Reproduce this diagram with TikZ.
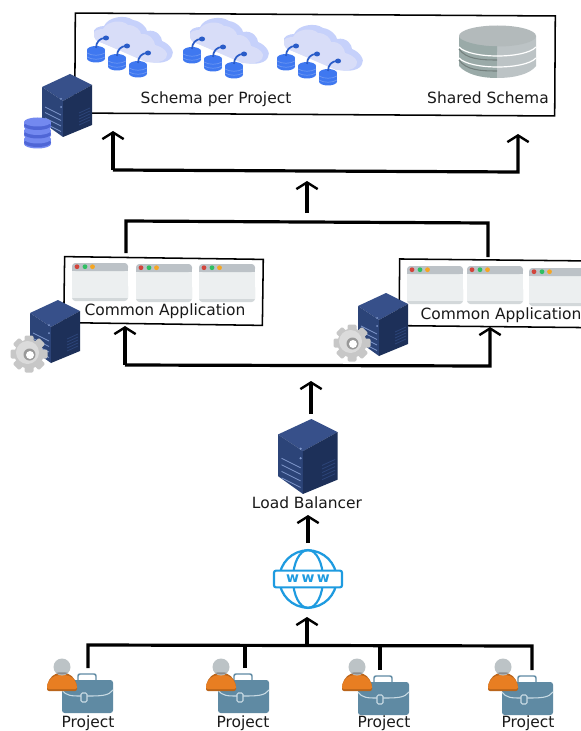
\documentclass[tikz,border=0pt]{standalone}
\usepackage{fontspec}
\setmainfont{DejaVu Sans}
\usetikzlibrary{arrows.meta}
\definecolor{srvTop}{HTML}{37508A}
\definecolor{srvLeft}{HTML}{2C4478}
\definecolor{srvRight}{HTML}{1D3059}
\definecolor{srvLine}{HTML}{7F97CC}
\definecolor{dbBlue}{HTML}{3F78F0}
\definecolor{dbDark}{HTML}{2A5CC8}
\definecolor{dbLight}{HTML}{6E98F2}
\definecolor{stackBlue}{HTML}{7389F0}
\definecolor{stackDark}{HTML}{4F66D6}
\definecolor{cloudBack}{HTML}{C6D1FB}
\definecolor{cloudFront}{HTML}{D8DDF8}
\definecolor{cylTop}{HTML}{B3BABB}
\definecolor{cylSideL}{HTML}{9AAAA8}
\definecolor{cylSideR}{HTML}{BCC3C5}
\definecolor{winBar}{HTML}{BCC2C7}
\definecolor{winBody}{HTML}{ECEFF0}
\definecolor{winEdge}{HTML}{D3D8DA}
\definecolor{winRed}{HTML}{D2453C}
\definecolor{winGreen}{HTML}{2FBF62}
\definecolor{winOrange}{HTML}{F5A623}
\definecolor{caseBlue}{HTML}{5F8AA3}
\definecolor{caseLine}{HTML}{C9DBE4}
\definecolor{personOrange}{HTML}{E87E22}
\definecolor{personHead}{HTML}{BCC3C6}
\definecolor{wwwBlue}{HTML}{1E9BE0}
\tikzset{
  x=0.75pt,y=-0.75pt,
  wire/.style={line width=2.4pt,black,line join=miter},
  arrowline/.style={wire,-{Straight Barb[length=5pt,width=16pt,line width=1.8pt]}},
  frame/.style={draw=black,line width=1.15pt,fill=white,inner sep=0pt},
  label/.style={font=\fontsize{11.6}{13}\selectfont,inner sep=0pt,text=black!90},
  pics/serverbox/.style={code={
    \fill[srvTop] (28,0)--(0,13)--(21,27)--(50,11)--cycle;
    \fill[srvLeft] (0,13)--(21,27)--(21,63)--(0,48)--cycle;
    \fill[srvRight] (21,27)--(50,11)--(50,51)--(21,63)--cycle;
    \foreach \k in {0,1,2,3}{\draw[srvLine,line width=.6pt] (3,33+5.5*\k)--(19,41+5.5*\k);}
    \fill[srvLine] (19,25) circle[radius=1];
    \fill[srvLine] (19,33) circle[radius=1];
    \foreach \k in {0,1,2,3,4}{\draw[srvLeft,line width=.6pt] (37,39+3*\k)--(48,34+3*\k);}
  }},
  pics/dbstack/.style={code={
    \foreach \k in {2,1,0}{
      \fill[stackBlue] (24,122+8.5*\k) rectangle (51,127+8.5*\k);
      \fill[stackBlue] (37.5,127+8.5*\k) ellipse[x radius=13.5,y radius=4.5];
      \fill[stackDark] (37.5,125.5+8.5*\k) ellipse[x radius=13.5,y radius=4.5];
      \fill[stackBlue] (37.5,122+8.5*\k) ellipse[x radius=13.5,y radius=4.5];
    }
  }},
  pics/minidb/.style={code={
    \fill[dbBlue] (-9,-4) rectangle (9,4);
    \fill[dbBlue] (0,4.5) ellipse[x radius=9,y radius=4];
    \fill[dbBlue] (0,-4) ellipse[x radius=9,y radius=4];
    \draw[dbLight,line width=.5pt] (-9,-1)..controls (-4,2) and (4,2)..(9,-1);
    \draw[dbLight,line width=.5pt] (-9,3)..controls (-4,6) and (4,6)..(9,3);
    \draw[dbDark,line width=1.3pt] (0,-6)..controls (0,-12) and (4,-16)..(9,-16);
    \fill[dbDark] (10,-16) ellipse[x radius=3,y radius=2.5];
  }},
  pics/cloudgroup/.style={code={
    \fill[cloudBack] (94,34)..controls (92,28) and (100,26)..(104,26)
      ..controls (108,17) and (125,14)..(133,20)..controls (141,21) and (147,28)..(147,31)
      ..controls (157,29) and (162,37)..(162,41)..controls (170,44) and (175,52)..(172,56)
      ..controls (170,62) and (160,64)..(150,62)--(100,42)..controls (96,41) and (94,38)..(94,34)--cycle;
    \fill[cloudFront] (94,34)..controls (93,30) and (100,29)..(103,29)
      ..controls (107,21) and (122,19)..(128,25)..controls (136,25) and (141,31)..(141,34)
      ..controls (150,33) and (155,41)..(155,45)..controls (163,47) and (170,53)..(166,58)
      ..controls (163,62) and (156,63)..(146,62)--(100,42)..controls (96,41) and (94,38)..(94,34)--cycle;
    \pic at (96,54) {minidb};
    \pic at (117,62) {minidb};
    \pic at (138,69) {minidb};
  }},
  pics/appwindow/.style={code={
    \fill[winEdge,rounded corners=2.5pt] (0,20) rectangle (56,38);
    \fill[winBody] (0,8) rectangle (56,35);
    \fill[winBar,rounded corners=2.5pt] (0,0) rectangle (56,8);
    \fill[winBar] (0,4) rectangle (56,8);
    \fill[winRed] (5,3.7) circle[radius=2.4];
    \fill[winGreen] (13,3.7) circle[radius=2.4];
    \fill[winOrange] (20.5,3.7) circle[radius=2.4];
  }},
  pics/cogwheel/.style={code={
    \foreach \a in {0,45,...,315}{
      \fill[black!22,rotate=\a,rounded corners=1pt] (-4.5,-18.5) rectangle (4.5,0);
    }
    \fill[black!22] (0,0) circle[radius=14.5];
    \fill[black!14] (-1.5,-1.5) circle[radius=11.5];
    \fill[black!40] (0.5,0.5) circle[radius=6];
    \fill[white] (1,1) circle[radius=4];
  }},
  pics/projectcase/.style={code={
    \draw[caseBlue,line width=1.1pt,rounded corners=1.5pt,fill=white] (78,680)--(78,674)--(96,674)--(96,680);
    \fill[caseBlue,rounded corners=2pt] (62,680) rectangle (113,713);
    \draw[caseLine,line width=.8pt] (62,690)..controls (66,696) and (72,696)..(81,696);
    \draw[caseLine,line width=.8pt] (87,696)..controls (100,696) and (109,696)..(113,690);
    \draw[caseLine,line width=.8pt,fill=caseBlue,rounded corners=1pt] (81,693) rectangle (87,702);
  }},
  pics/projectperson/.style={code={
    \fill[personOrange!80!black,rounded corners=1.5pt] (47,691)--(47,686)..controls (49,678) and (54,673)..(62,673)..controls (70,673) and (75,678)..(77,686)--(77,691)--cycle;
    \fill[personOrange,rounded corners=1.5pt] (47,689)--(47,686)..controls (49,679) and (54,675)..(62,675)..controls (70,675) and (75,679)..(77,686)--(77,689)--cycle;
    \fill[personHead] (62,667) circle[radius=8.5];
    \fill[black!45] (56,673)..controls (59,675) and (65,675)..(68,673)..controls (65,672) and (59,672)..(56,673)--cycle;
  }},
}
\begin{document}
\begin{tikzpicture}
\clip (0,0) rectangle (581,731);
\fill[white] (0,0) rectangle (581,731);

% connector end points
\coordinate (schemaIn) at (113,131);
\coordinate (sharedIn) at (518,134);
\coordinate (topBusL) at (113,170);
\coordinate (topBusR) at (518,172);
\coordinate (topBusMid) at (307,181);
\coordinate (appBusMid) at (307,213);
\coordinate (appBusL) at (126,221);
\coordinate (appBusR) at (488,223);
\coordinate (appOutL) at (126,253);
\coordinate (appOutR) at (488,257);
\coordinate (appInL) at (125,326);
\coordinate (appInR) at (490,327);
\coordinate (lbBusL) at (125,365);
\coordinate (lbBusR) at (490,366);
\coordinate (lbOut) at (311,381);
\coordinate (lbOutStart) at (311,414);
\coordinate (lbIn) at (308,515);
\coordinate (wwwOut) at (308,543);
\coordinate (wwwIn) at (307,617);
\coordinate (projBusMid) at (307,645);
\coordinate (projBus1) at (88,645);
\coordinate (projBus2) at (245,645);
\coordinate (projBus3) at (380,646);
\coordinate (projBus4) at (532,646);
\coordinate (proj1Out) at (88,668);
\coordinate (proj2Out) at (245,668);
\coordinate (proj3Out) at (380,670);
\coordinate (proj4Out) at (532,670);

% frames
\node[frame,minimum width=360pt,minimum height=75pt,rotate=-0.35] (schemaBox) at (315,64.5) {};
\node[frame,minimum width=149pt,minimum height=49.5pt,rotate=-0.8] (appBoxL) at (163.5,291) {};
\node[frame,minimum width=172pt,minimum height=50pt,rotate=-0.6] (appBoxR) at (514,293.5) {};

% connectors
\draw[arrowline] (topBusL) -- (schemaIn);
\draw[arrowline] (topBusL) -- (topBusR) -- (sharedIn);
\draw[arrowline] (appBusMid) -- (topBusMid);
\draw[wire] (appOutL) -- (appBusL) -- (appBusR) -- (appOutR);
\draw[arrowline] (lbBusL) -- (appInL);
\draw[arrowline] (lbBusL) -- (lbBusR) -- (appInR);
\draw[arrowline] (lbOutStart) -- (lbOut);
\draw[arrowline] (wwwOut) -- (lbIn);
\draw[arrowline] (projBusMid) -- (wwwIn);
\draw[wire] (proj1Out) -- (projBus1) -- (projBus4) -- (proj4Out);
\draw[wire] (proj2Out) -- (projBus2);
\draw[wire] (proj3Out) -- (projBus3);

% database tier
\pic at (0,0) {cloudgroup};
\pic at (96,1) {cloudgroup};
\pic at (190,8) {cloudgroup};
\node[label] (schemaPerProject) at (216,99) {Schema per Project};
% shared schema cylinder
\fill[cylSideL] (459,36) -- (459,66) .. controls (466,74) and (480,78) .. (497,78) -- (497,36) -- cycle;
\fill[cylSideR] (497,36) -- (497,78) .. controls (515,78) and (530,74) .. (536,66) -- (536,36) -- cycle;
\draw[cylSideL!75!black,line width=.8pt] (459,49) .. controls (466,59) and (480,60) .. (497,60);
\draw[cylSideL!75!black,line width=.8pt] (459,60) .. controls (466,70) and (480,71) .. (497,71);
\draw[white,line width=.9pt] (459,47) .. controls (470,59) and (525,59) .. (536,47);
\draw[white,line width=.9pt] (459,58) .. controls (470,70) and (525,70) .. (536,58);
\fill[cylTop] (497.5,36) ellipse[x radius=38.5,y radius=10.5];
\fill[cylSideL] (459,38) .. controls (468,44) and (483,46) .. (497,46.5) -- (497,52) -- (470,51) -- (459,44) -- cycle;
\node[label] (sharedSchema) at (488,98) {Shared Schema};

% server with database
\pic at (42,74) {serverbox};
\pic at (0,0) {dbstack};

% application tier
\foreach \px/\py in {72/263,136/264,199/264,407/266,467/266,529/268}{
  \pic at (\px,\py) {appwindow};
}
\node[label] (appLabelL) at (165,311) {Common Application};
\node[label] (appLabelR) at (501,315) {Common Application};
\pic at (30,300) {serverbox};
\pic at (29,354) {cogwheel};
\pic at (358,293) {serverbox};
\pic at (352,343) {cogwheel};

% load balancer
\pic[scale=1.19] at (278,419) {serverbox};
\node[label] (loadBalancer) at (307,503) {Load Balancer};

% www globe
\node[circle,draw=wwwBlue,line width=1.7pt,minimum size=43pt,inner sep=0pt] (www) at (308,579) {};
\draw[wwwBlue,line width=1.6pt] (www.center) ellipse[x radius=15,y radius=29];
\node[draw=wwwBlue,line width=1.6pt,fill=white,rounded corners=1.5pt,minimum width=51pt,minimum height=12.5pt,inner sep=0pt,text=wwwBlue,font=\bfseries\fontsize{10.5}{11}\selectfont] (wwwBand) at (308,579) {w\hspace{1.8pt}w\hspace{1.8pt}w};

% projects
\pic at (0,0) {projectcase};
\pic at (156,0) {projectcase};
\pic at (296,2) {projectcase};
\pic at (440,2) {projectcase};
\pic at (0,0) {projectperson};
\pic at (159,0) {projectperson};
\pic at (295,0) {projectperson};
\pic at (441,0) {projectperson};
\node[label] (project1) at (88,723) {Project};
\node[label] (project2) at (243,723.5) {Project};
\node[label] (project3) at (384,723.5) {Project};
\node[label] (project4) at (528,723.5) {Project};
\end{tikzpicture}
\end{document}
